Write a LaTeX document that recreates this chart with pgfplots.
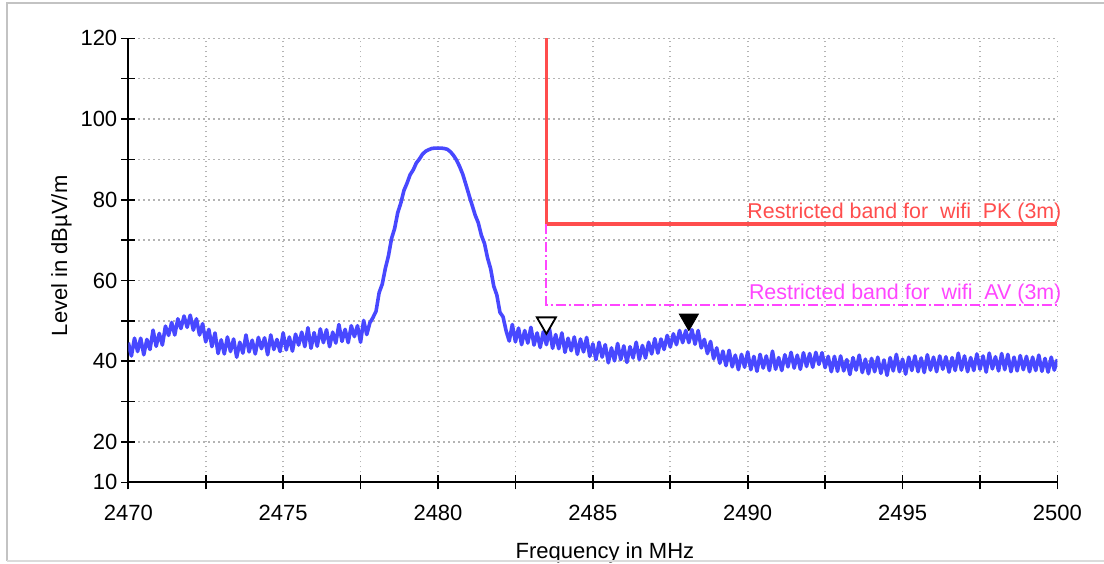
\documentclass[border=0pt]{standalone}
\usepackage{pgfplots}
\pgfplotsset{compat=1.18}
\usepackage{fontspec}
\setmainfont{Liberation Sans}
\definecolor{trace}{RGB}{72,72,255}
\definecolor{pklim}{RGB}{255,77,77}
\definecolor{avlim}{RGB}{255,70,255}
\definecolor{gridc}{RGB}{180,180,180}
\definecolor{framec}{RGB}{195,195,195}
\begin{document}
\begin{tikzpicture}
\begin{axis}[
  scale only axis,
  width=464.55pt, height=222pt,
  xmin=2470, xmax=2500, ymin=10, ymax=120,
  axis x line=bottom, axis y line=left,
  axis line style={-, line width=1pt, black},
  xtick={2470,2472.5,...,2500},
  xticklabels={2470,,2475,,2480,,2485,,2490,,2495,,2500},
  ytick={10,20,...,120},
  yticklabels={10,20,,40,,60,,80,,100,,120},
  tick align=center, major tick length=7pt,
  tick style={black, line width=0.8pt},
  /pgf/number format/assume math mode=true,
  tick label style={font=\fontsize{11}{13}\selectfont},
  xticklabel style={yshift=-4.5pt},
  yticklabel style={xshift=1.5pt},
  grid=major,
  major grid style={gridc, line width=0.8pt, dash pattern=on 0.9pt off 1.6pt},
  xlabel={Frequency in MHz}, ylabel={Level in dB\textmu V/m},
  label style={font=\fontsize{11}{13}\selectfont},
  xlabel style={at={(axis description cs:0.513,-0.1705)}, anchor=base},
  ylabel style={at={(axis description cs:-0.072,0.51)}, anchor=center},
  clip mode=individual,
]
% PK limit
\addplot[pklim, line width=1.8pt] coordinates {(2483.5,120) (2483.5,74) (2500,74)};
% AV limit
\addplot[avlim, line width=1pt, dash pattern=on 5pt off 1.5pt on 1pt off 1.5pt] coordinates {(2483.5,74) (2483.5,54) (2500,54)};
\addplot[trace, line width=1.8pt, line join=round] table {
2470.0 44.6
2470.1 41.3
2470.2 45.7
2470.3 42.4
2470.4 45.7
2470.5 41.6
2470.6 45.4
2470.7 42.9
2470.8 47.7
2470.9 43.7
2471.0 46.9
2471.1 44.0
2471.2 48.7
2471.3 46.4
2471.4 49.6
2471.5 46.5
2471.6 50.5
2471.7 48.1
2471.8 51.2
2471.9 48.4
2472.0 51.4
2472.1 47.7
2472.2 50.5
2472.3 46.5
2472.4 49.3
2472.5 44.8
2472.6 47.9
2472.7 43.6
2472.8 47.0
2472.9 41.9
2473.0 45.3
2473.1 41.8
2473.2 46.0
2473.3 42.4
2473.4 45.5
2473.5 41.0
2473.6 44.7
2473.7 42.0
2473.8 46.5
2473.9 42.3
2474.0 45.2
2474.1 41.8
2474.2 45.9
2474.3 43.1
2474.4 45.8
2474.5 41.6
2474.6 46.5
2474.7 42.9
2474.8 45.4
2474.9 42.4
2475.0 47.0
2475.1 42.8
2475.2 46.0
2475.3 42.5
2475.4 46.7
2475.5 44.0
2475.6 47.2
2475.7 43.6
2475.8 48.3
2475.9 43.2
2476.0 47.1
2476.1 43.7
2476.2 48.0
2476.3 44.6
2476.4 47.8
2476.5 43.6
2476.6 47.2
2476.7 44.5
2476.8 49.1
2476.9 44.9
2477.0 47.9
2477.1 44.6
2477.2 48.8
2477.3 46.1
2477.4 48.8
2477.5 44.7
2477.6 50.1
2477.7 46.6
2477.8 49.5
2477.9 50.8
2478.0 52.4
2478.1 57.0
2478.2 59.1
2478.3 63.0
2478.4 66.1
2478.5 70.4
2478.6 72.9
2478.7 76.8
2478.8 79.2
2478.9 82.3
2479.0 84.1
2479.1 86.2
2479.2 87.4
2479.3 89.1
2479.4 90.1
2479.5 91.3
2479.6 92.0
2479.7 92.4
2479.8 92.7
2479.9 92.8
2480.0 92.8
2480.1 92.8
2480.2 92.7
2480.3 92.5
2480.4 91.9
2480.5 91.0
2480.6 89.8
2480.7 88.2
2480.8 86.3
2480.9 83.8
2481.0 81.2
2481.1 78.7
2481.2 76.2
2481.3 74.3
2481.4 71.2
2481.5 69.2
2481.6 65.6
2481.7 62.9
2481.8 58.6
2481.9 56.4
2482.0 52.1
2482.1 51.0
2482.2 47.5
2482.3 45.0
2482.4 49.1
2482.5 44.8
2482.6 48.2
2482.7 44.1
2482.8 47.6
2482.9 44.5
2483.0 48.4
2483.1 44.0
2483.2 47.0
2483.3 43.4
2483.4 47.3
2483.5 44.1
2483.6 48.0
2483.7 43.2
2483.8 46.6
2483.9 43.1
2484.0 47.0
2484.1 42.2
2484.2 45.7
2484.3 42.6
2484.4 46.0
2484.5 41.7
2484.6 45.5
2484.7 42.3
2484.8 45.9
2484.9 41.2
2485.0 44.3
2485.1 40.4
2485.2 44.7
2485.3 41.0
2485.4 44.1
2485.5 39.6
2485.6 43.3
2485.7 40.1
2485.8 44.4
2485.9 40.4
2486.0 43.8
2486.1 39.7
2486.2 43.6
2486.3 40.8
2486.4 44.7
2486.5 40.4
2486.6 43.9
2486.7 40.8
2486.8 44.7
2486.9 41.8
2487.0 45.6
2487.1 42.0
2487.2 45.5
2487.3 42.9
2487.4 46.4
2487.5 43.5
2487.6 46.8
2487.7 44.1
2487.8 47.6
2487.9 44.6
2488.0 47.6
2488.1 44.6
2488.2 47.8
2488.3 44.2
2488.4 47.6
2488.5 43.3
2488.6 45.4
2488.7 41.9
2488.8 44.9
2488.9 40.6
2489.0 43.3
2489.1 39.5
2489.2 42.5
2489.3 38.9
2489.4 42.7
2489.5 38.6
2489.6 41.5
2489.7 37.9
2489.8 41.7
2489.9 38.5
2490.0 42.3
2490.1 37.9
2490.2 41.2
2490.3 37.5
2490.4 41.7
2490.5 38.3
2490.6 41.3
2490.7 37.7
2490.8 42.5
2490.9 38.0
2491.0 40.9
2491.1 37.7
2491.2 41.6
2491.3 38.6
2491.4 42.2
2491.5 38.3
2491.6 41.5
2491.7 38.0
2491.8 42.1
2491.9 38.7
2492.0 41.9
2492.1 38.5
2492.2 42.2
2492.3 39.2
2492.4 42.1
2492.5 38.4
2492.6 41.2
2492.7 37.4
2492.8 41.2
2492.9 37.5
2493.0 41.3
2493.1 37.6
2493.2 40.4
2493.3 36.7
2493.4 40.9
2493.5 37.8
2493.6 41.5
2493.7 37.2
2493.8 40.5
2493.9 36.9
2494.0 40.7
2494.1 37.4
2494.2 41.0
2494.3 37.0
2494.4 40.3
2494.5 36.5
2494.6 40.9
2494.7 37.6
2494.8 41.7
2494.9 37.4
2495.0 40.5
2495.1 36.8
2495.2 41.0
2495.3 37.7
2495.4 41.3
2495.5 37.4
2495.6 40.8
2495.7 37.2
2495.8 41.6
2495.9 37.8
2496.0 41.0
2496.1 37.4
2496.2 41.3
2496.3 38.0
2496.4 41.1
2496.5 37.3
2496.6 40.9
2496.7 37.7
2496.8 42.0
2496.9 37.8
2497.0 41.3
2497.1 37.4
2497.2 40.9
2497.3 37.7
2497.4 41.8
2497.5 38.0
2497.6 41.3
2497.7 37.3
2497.8 42.0
2497.9 38.1
2498.0 41.1
2498.1 37.6
2498.2 41.9
2498.3 37.9
2498.4 41.7
2498.5 37.4
2498.6 41.0
2498.7 37.6
2498.8 41.4
2498.9 37.9
2499.0 41.2
2499.1 37.4
2499.2 41.0
2499.3 37.7
2499.4 41.5
2499.5 37.5
2499.6 40.7
2499.7 37.3
2499.8 41.0
2499.9 37.8
2500.0 40.5
};
% markers
\addplot[only marks, mark=triangle*, mark size=5.5pt, mark options={rotate=180, fill=white, draw=black, line width=0.9pt}] coordinates {(2483.5,49.5)};
\addplot[only marks, mark=triangle*, mark size=5.5pt, mark options={rotate=180, fill=black, draw=black}] coordinates {(2488.1,50.3)};
\node[pklim, anchor=base east, font=\fontsize{10.7}{12}\selectfont, inner sep=0pt] at (axis cs:2500,74) [xshift=2.2pt, yshift=2.7pt] {Restricted band for\ \ wifi\ \ PK (3m)};
\node[avlim, anchor=base east, font=\fontsize{10.7}{12}\selectfont, inner sep=0pt] at (axis cs:2500,54) [xshift=2.2pt, yshift=2.7pt] {Restricted band for\ \ wifi\ \ AV (3m)};
\end{axis}
\pgfresetboundingbox
\path[use as bounding box] ([xshift=-64.15pt,yshift=-40.35pt]current axis.south west) rectangle ([xshift=23.3pt,yshift=19.15pt]current axis.north east);
\draw[framec, line width=0.9pt] ([xshift=-60.65pt,yshift=-39.35pt]current axis.south west) -- ([xshift=-60.65pt,yshift=17.65pt]current axis.north west) -- ([xshift=40pt,yshift=17.65pt]current axis.north east);
\draw[framec!60, line width=0.9pt] ([xshift=-60.65pt,yshift=-39.35pt]current axis.south west) -- ([xshift=40pt,yshift=-39.35pt]current axis.south east);
\end{tikzpicture}
\end{document}
